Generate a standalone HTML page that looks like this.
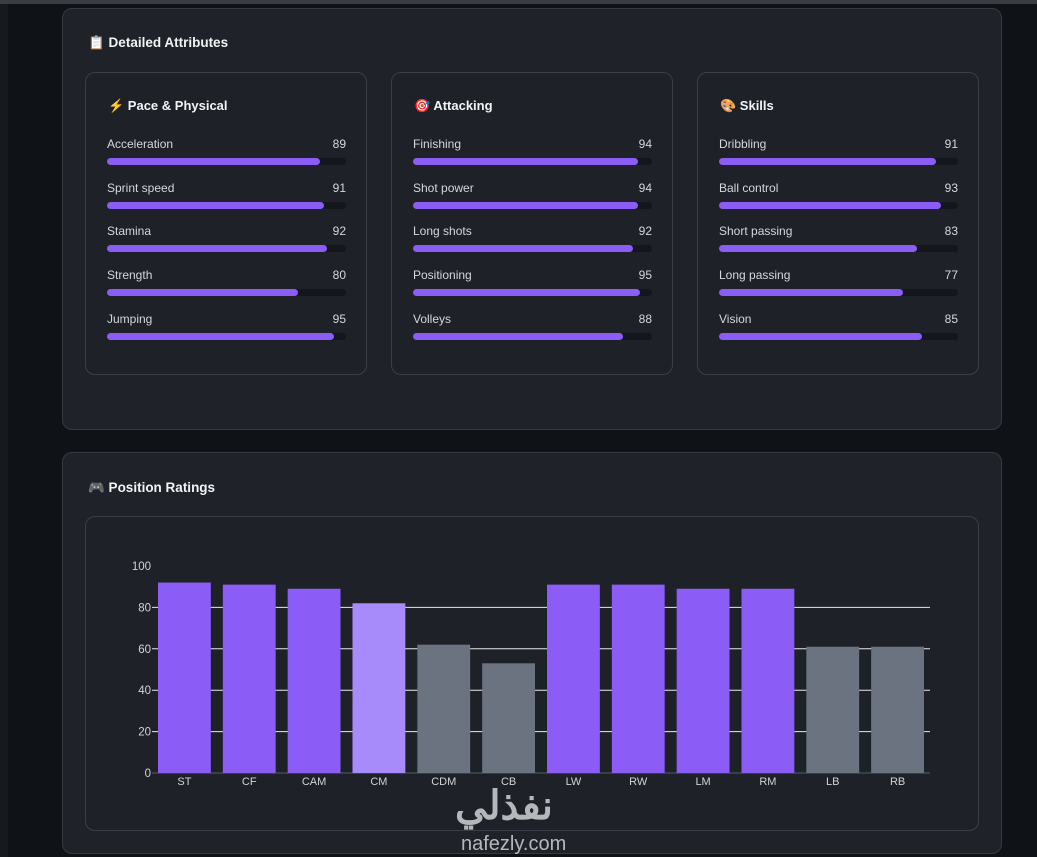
<!DOCTYPE html>
<html><head><meta charset="utf-8"><style>
body{margin:0;width:1037px;height:857px;background:#0f1216;font-family:"Liberation Sans",sans-serif;position:relative;overflow:hidden;color:#e6e8eb}
.top{position:absolute;left:0;top:0;width:1037px;height:4px;background:#3a3d42}
.stripe{position:absolute;left:0;top:4px;width:8px;height:853px;background:#16191d}
.panel{position:absolute;left:62px;width:938px;background:#1f2329;border:1px solid #353a42;border-radius:10px}
.ptitle{position:absolute;left:25px;font-size:13.5px;font-weight:bold;color:#f2f3f5}
.card{position:absolute;top:63px;width:280px;height:301px;border:1px solid #3a3f47;border-radius:10px;background:#1e2228}
.ctitle{position:absolute;left:22px;top:25px;font-size:13px;font-weight:bold;color:#f2f3f5}
.row{position:absolute;left:21px;width:239px;font-size:12px;color:#d4d7db}
.row .v{position:absolute;right:0;top:0}
.track{position:absolute;left:0;top:21px;width:239px;height:7px;border-radius:4px;background:#13161b}
.fill{height:7px;border-radius:4px;background:#8b5cf6}
</style></head><body>
<div class="top"></div>
<div class="stripe"></div>
<div class="panel" style="top:8px;height:420px">
<div class="ptitle" style="top:26px">📋 Detailed Attributes</div>
<div id="cards"></div>
</div>
<div class="panel" style="top:452px;height:400px">
<div class="ptitle" style="top:27px">🎮 Position Ratings</div>
<div class="card" style="left:22px;top:63px;width:892px;height:313px"></div>
</div>
<svg id="chart" width="1037" height="857" style="position:absolute;left:0;top:0"></svg>
<div style="position:absolute;left:455px;top:783px;font-size:40px;font-weight:bold;color:#d0d2d5;opacity:.85;font-family:'Liberation Sans','Noto Sans CJK SC',sans-serif">نفذلي</div>
<div style="position:absolute;left:461px;top:833px;font-size:20px;color:#d0d2d5;opacity:.85">nafezly.com</div>
<script>
const groups=[["⚡ Pace & Physical",["Acceleration","Sprint speed","Stamina","Strength","Jumping"],[89,91,92,80,95]],
["🎯 Attacking",["Finishing","Shot power","Long shots","Positioning","Volleys"],[94,94,92,95,88]],
["🎨 Skills",["Dribbling","Ball control","Short passing","Long passing","Vision"],[91,93,83,77,85]]];
const cards=document.getElementById('cards');
groups.forEach((g,i)=>{
 const c=document.createElement('div');c.className='card';c.style.left=(22+i*306)+'px';
 
 
 let h='<div class="ctitle">'+g[0]+'</div>';
 g[1].forEach((n,j)=>{h+='<div class="row" style="top:'+(64+j*43.7)+'px"><span>'+n+'</span><span class="v">'+g[2][j]+'</span><div class="track"><div class="fill" style="width:'+(g[2][j])+'%"></div></div></div>';});
 c.innerHTML=h;cards.appendChild(c);
});
const cats=["ST","CF","CAM","CM","CDM","CB","LW","RW","LM","RM","LB","RB"];
const vals=[92,91,89,82,62,53,91,91,89,89,61,61];
const ticks=[0,20,40,60,80,100];
const svg=document.getElementById('chart');const NS='http://www.w3.org/2000/svg';
const x0=152,x1=930,y0=773,y100=566;
const y=v=>y0-(v/100)*(y0-y100);const bw=(x1-x0)/cats.length;
function el(t,a,txt){const e=document.createElementNS(NS,t);for(const k in a)e.setAttribute(k,a[k]);if(txt!=null)e.textContent=txt;svg.appendChild(e);return e;}
ticks.forEach(t=>{
 if(t>0&&t<100){const l=el('line',{x1:x0,x2:x1,y1:y(t),y2:y(t),stroke:'#e8e8e8','stroke-width':1});
 
 }
 const tx=el('text',{x:x0-1,y:y(t)+4,'text-anchor':'end','font-size':11.5,fill:'#d0d3d7','font-family':'Liberation Sans'},t);
 
 
});
el('line',{x1:x0,x2:x1,y1:y0,y2:y0,stroke:'#555a62'});
cats.forEach((c,i)=>{
 const col=c==="CM"?'#a78bfa':(["CDM","CB","LB","RB"].includes(c)?'#6b7280':'#8b5cf6');
 const r=el('rect',{x:x0+i*bw+6,y:y(vals[i]),width:bw-12,height:y0-y(vals[i]),fill:col});
 
 
 const t=el('text',{x:x0+i*bw+bw/2,y:y0+12,'text-anchor':'middle','font-size':11,fill:'#d0d3d7','font-family':'Liberation Sans'},c);
 
 
});
</script>
</body></html>
